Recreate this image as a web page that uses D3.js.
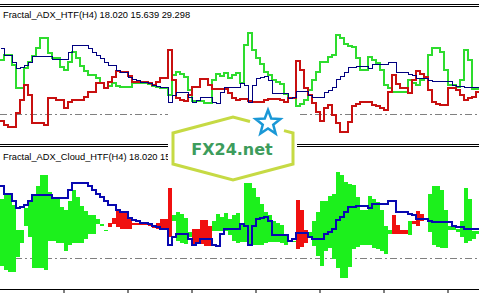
<!DOCTYPE html>
<html>
<head>
<meta charset="utf-8">
<script src="https://cdn.jsdelivr.net/npm/d3@7"></script>
<style>
body{margin:0;background:#fff;overflow:hidden}
svg{display:block}
</style>
</head>
<body>
<script>
// indicator values per chart bar (H4 values stretched over the lower timeframe bars)
const adx = [
  53,49.5,49.5,46,43,43.5,44.5,46,49,49,
  49,49,49,47.5,47.5,47.5,47.5,51,54.5,54.5,
  54.5,54.5,53,51,49.5,48,46,44.5,44.5,42,
  41,41,38.5,37.5,37,36,36,35.5,34.5,34,
  33.5,33.5,26,29.5,31,31,31,28.5,26,27,
  28.5,28.5,28.5,26,25.5,31,33.5,33.5,33.5,33.5,
  35.5,34.5,26,34.5,38,38.5,39,37,30.5,30.5,
  30.5,30.5,28,28.5,31.5,31.5,31.5,29.5,28.5,28.5,
  28.5,31,32,33.5,37.5,39,41,43.5,43.5,44,
  44,44,43,45,45,45,45,46,46,41,
  41,41,40,39.5,38,38,38,37,36.5,36.5,
  36.5,36.5,36.5,34.5,34,34,33.5,33.5,33.5,33.5
]
const plusDI = [
  47,49.5,49.5,44.5,33,33,43,46,49,53,
  58,58,50.5,48,48,43.5,42,46,51,48,
  44,41.5,39.5,39.5,38,35.5,33,34,35.5,34,
  33.5,33.5,33.5,35.5,35.5,35.5,35.5,35,34,33.5,
  33,33,29.5,39.5,41,40,38.5,32,26.5,26.5,
  26.5,25.5,25.5,37,40,39,40.5,38,39.5,40.5,
  35.5,54.5,60.5,52,48,45,41,39.5,37,36,
  35,30,28,28,24,25,27,32,37,41,
  46,46,48.5,49.5,59.5,58,55,54,53.5,48,
  42,42,48.5,47,45.5,42,34.5,33,31,31,
  31,31,37,35.5,34.5,37,38.5,49.5,53,53,
  51,42,34.5,34.5,33.5,37,52,47,32.5,32.5
]
const minusDI = [
  16.5,14.5,13.5,13.5,20.5,27,34.5,29.5,15.5,15.5,
  15.5,14.5,28,28,27,27,23,26,27,27,
  27,28.5,31,31,35.5,35.5,33,36,38.5,41.5,
  41,41,39,36,36,36,36,35.5,34.5,36,
  38,38,52,37,28,27,26.5,29.5,33.5,33.5,
  37.5,37.5,34.5,32.5,32.5,32.5,32.5,30.5,28,27,
  27.5,27.5,26.5,26,26,26,27,27.5,27.5,27.5,
  27,26,28,28,46.5,42,33,29.5,25.5,21,
  16.5,23,24.5,19.5,15.5,11,11,16,24,25,
  26,26,26,24.5,24,23,22,31,39.5,35,
  33,33,30.5,37,41.5,40,38.5,32,26,25,
  24.5,24.5,33,33,32,29.5,27,28,28.5,31
]
const levelValue = 20
const titleTop = "Fractal_ADX_HTF(H4) 18.020 15.639 29.298"
const titleBottom = "Fractal_ADX_Cloud_HTF(H4) 18.020 15.639 29.298"
const tickBars = [16, 32, 48, 64, 80, 96, 112]
const logoText = "FX24.net"

const width = 479, height = 293
const nBars = adx.length

const x = d3.scaleLinear().domain([0, nBars]).range([0, 480])
const yTop = d3.scaleLinear().domain([20, 70]).range([114, 14])
const yBot = d3.scaleLinear().domain([20, 70]).range([258, 149])

const svg = d3.select("body").append("svg")
  .attr("width", width)
  .attr("height", height)

const defs = svg.append("defs")
defs.append("clipPath").attr("id", "clipTop")
  .append("rect").attr("x", 0).attr("y", 7).attr("width", width).attr("height", 137)
defs.append("clipPath").attr("id", "clipBot")
  .append("rect").attr("x", 0).attr("y", 148).attr("width", width).attr("height", 141)

// step line helper
function stepLine(vals, y) {
  var pts = d3.range(nBars + 1).map(function(i) {
    return [x(i), Math.round(y(vals[Math.min(i, nBars - 1)]))]
  })
  return d3.line().curve(d3.curveStepAfter)(pts)
}

// separators
function doubleLine(y0) {
  [y0, y0 + 2].forEach(function(yy) {
    svg.append("line")
      .attr("x1", 0).attr("x2", width)
      .attr("y1", yy).attr("y2", yy)
      .attr("stroke", "#000").attr("stroke-width", 1)
  })
}
doubleLine(4.5)
doubleLine(144.5)

// ---- top window
const topWin = svg.append("g").attr("clip-path", "url(#clipTop)")

topWin.append("line")
  .attr("x1", 0).attr("x2", width)
  .attr("y1", Math.round(yTop(levelValue)) + 0.5).attr("y2", Math.round(yTop(levelValue)) + 0.5)
  .attr("stroke", "#808080").attr("stroke-dasharray", "7,3,2,3")

topWin.append("path").attr("d", stepLine(plusDI, yTop))
  .attr("fill", "none").attr("stroke", "#2edc2e").attr("stroke-width", 2)
topWin.append("path").attr("d", stepLine(minusDI, yTop))
  .attr("fill", "none").attr("stroke", "#c81010").attr("stroke-width", 2)
topWin.append("path").attr("d", stepLine(adx, yTop))
  .attr("transform", "translate(0.5,0.5)")
  .attr("fill", "none").attr("stroke", "#000080").attr("stroke-width", 1)
  .attr("shape-rendering", "crispEdges")

svg.append("text")
  .attr("x", 3).attr("y", 18)
  .style("font-family", "'Liberation Sans', Arial, sans-serif")
  .style("font-size", "9.3px")
  .attr("fill", "#000")
  .text(titleTop)

// ---- bottom window (cloud)
const botWin = svg.append("g").attr("clip-path", "url(#clipBot)")

botWin.append("line")
  .attr("x1", 0).attr("x2", width)
  .attr("y1", Math.round(yBot(levelValue)) + 0.5).attr("y2", Math.round(yBot(levelValue)) + 0.5)
  .attr("stroke", "#808080").attr("stroke-dasharray", "7,3,2,3")

botWin.append("g").selectAll("rect")
  .data(d3.range(nBars))
  .enter().append("rect")
  .attr("x", function(i) { return x(i) })
  .attr("width", function(i) { return x(i + 1) - x(i) })
  .attr("y", function(i) { return yBot(Math.max(plusDI[i], minusDI[i])) })
  .attr("height", function(i) {
    return Math.max(1.5, Math.abs(yBot(plusDI[i]) - yBot(minusDI[i])))
  })
  .attr("fill", function(i) { return plusDI[i] >= minusDI[i] ? "#1cf01c" : "#f01010" })
  .attr("shape-rendering", "crispEdges")

botWin.append("path").attr("d", stepLine(adx, yBot))
  .attr("fill", "none").attr("stroke", "#0808b0").attr("stroke-width", 2)

svg.append("text")
  .attr("x", 3).attr("y", 160)
  .style("font-family", "'Liberation Sans', Arial, sans-serif")
  .style("font-size", "9.3px")
  .attr("fill", "#000")
  .text(titleBottom)

// time axis
svg.append("g")
  .attr("transform", "translate(-0.5,289)")
  .call(d3.axisBottom(x).tickValues(tickBars).tickFormat("").tickSize(5).tickSizeOuter(0))
  .call(function(g) { g.selectAll("path,line").attr("stroke", "#000") })

// ---- watermark logo
const logo = svg.append("g")
logo.append("rect")
  .attr("x", 168).attr("y", 111).attr("width", 129).attr("height", 72)
  .attr("fill", "#fff")
logo.append("path")
  .attr("d", "M250,121.5 L233,117 L173,133 L173,164 L233,180 L293,164 L293,133 L284,130.6")
  .attr("fill", "none").attr("stroke", "#c6da44").attr("stroke-width", 3)
  .attr("stroke-linejoin", "miter")
logo.append("text")
  .attr("x", 232).attr("y", 155)
  .attr("text-anchor", "middle")
  .style("font-family", "'DejaVu Sans', sans-serif")
  .style("font-weight", "bold")
  .style("font-size", "16px")
  .attr("fill", "#3d9c5c")
  .text(logoText)

var starPts = d3.range(10).map(function(k) {
  var r = k % 2 === 0 ? 13 : 5.5
  var a = -Math.PI / 2 + k * Math.PI / 5
  return [268 + r * Math.cos(a), 123 + r * Math.sin(a)]
})
logo.append("path")
  .attr("d", d3.line()(starPts) + "Z")
  .attr("fill", "#fff").attr("stroke", "#1a98d6").attr("stroke-width", 2.5)
  .attr("stroke-linejoin", "miter")
</script>
</body>
</html>
